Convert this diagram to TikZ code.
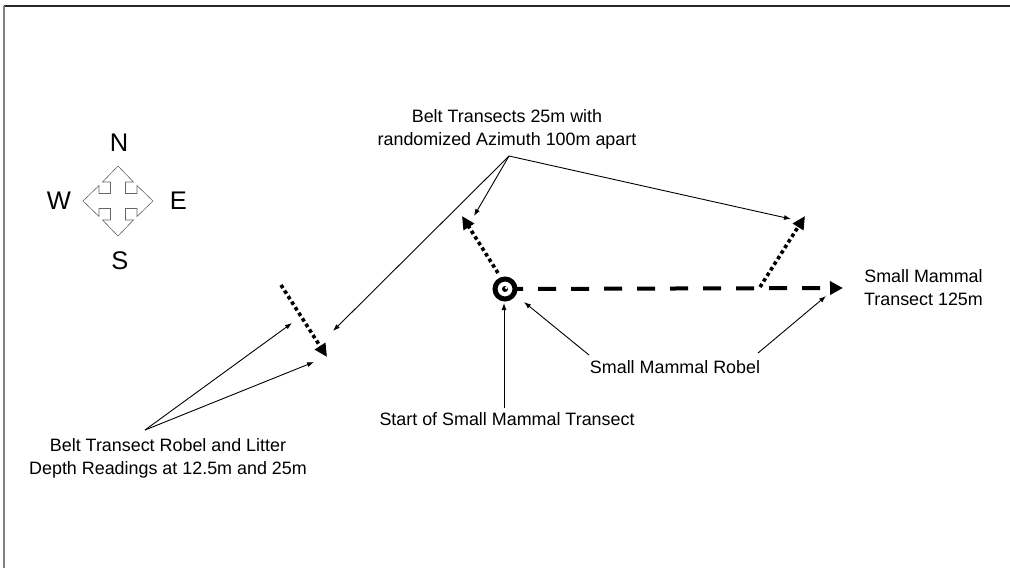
\documentclass[tikz,border=0pt]{standalone}
\usepackage{fontspec}
\setmainfont{Liberation Sans}
\usetikzlibrary{arrows.meta,calc}
\def\lblfont{\fontsize{17.9}{23.5}\selectfont}
\def\dirfont{\fontsize{25.5}{25.5}\selectfont}

\begin{document}
\begin{tikzpicture}[x=1pt, y=-1pt,
		lbl/.style={align=center, inner sep=0pt, font=\lblfont},
		dir/.style={inner sep=0pt, font=\dirfont},
		thin arrow/.style={line width=0.9pt, -{Latex[length=7pt,width=5pt]}},
		dash line/.style={line width=4pt, dash pattern=on 18pt off 15pt, -{Triangle[length=13pt,width=13pt]}},
		dot line/.style={line width=3.6pt, dash pattern=on 3.6pt off 3pt, -{Triangle[length=13pt,width=12pt]}}]
		%%%%% START %%%%%
		
		\useasboundingbox (0, 0) rectangle (1010, 568);
		\draw[line width=1.5pt, color=black!85] (4, 6) -- (1010, 6);
		\draw[line width=1.5pt, color=black!50] (4, 6) -- (4, 568);
		
		% compass
		\coordinate (compass) at (118, 201);
		\draw[line width=0.6pt, color=black!60, shift={(compass)}] (0, -35) -- (15.5, -19) -- (7.5, -19) -- (7.5, -7.5) -- (19, -7.5) -- (19, -15.5) -- (35, 0) -- (19, 15.5) -- (19, 7.5) -- (7.5, 7.5) -- (7.5, 19) -- (15.5, 19) -- (0, 35) -- (-15.5, 19) -- (-7.5, 19) -- (-7.5, 7.5) -- (-19, 7.5) -- (-19, 15.5) -- (-35, 0) -- (-19, -15.5) -- (-19, -7.5) -- (-7.5, -7.5) -- (-7.5, -19) -- (-15.5, -19) -- cycle;
		\node[dir] (north) at (119, 143) {N};
		\node[dir] (south) at (120, 260.5) {S};
		\node[dir] (west) at (59, 201) {W};
		\node[dir] (east) at (178.5, 201) {E};
		
		% transects
		\coordinate (mammalend) at (843, 288);
		\coordinate (beltastart) at (498, 273);
		\coordinate (beltaend) at (462, 216);
		\coordinate (beltbstart) at (760, 287);
		\coordinate (beltbend) at (805, 216);
		\coordinate (beltcstart) at (281, 285);
		\coordinate (beltcend) at (327, 357);
		
		\draw[dash line] (505, 289) -- (mammalend);
		\draw[dot line] (beltastart) -- (beltaend);
		\draw[dot line] (beltbstart) -- (beltbend);
		\draw[dot line] (beltcstart) -- (beltcend);
		
		\node[circle, draw, line width=5pt, fill=white, minimum size=20pt, inner sep=0pt] (ring) at (505, 289) {};
		\fill (ring.center) circle (3pt);
		\fill[white] ($(ring.center)+(1.2, -1.2)$) circle (1.5pt);
		
		% labels
		\node[lbl] (beltlabel) at (507, 129.5) {Belt Transects 25m with\\randomized Azimuth 100m apart};
		\node[lbl] (robellabel) at (168, 458.5) {Belt Transect Robel and Litter\\Depth Readings at 12.5m and 25m};
		\node[lbl] (startlabel) at (507, 419) {Start of Small Mammal Transect};
		\node[lbl] (mammalrobel) at (675, 367) {Small Mammal Robel};
		\node[lbl] (mammallabel) at (923.5, 287.5) {Small Mammal\\Transect 125m};
		
		% pointers
		\coordinate (hub) at (509, 156);
		\coordinate (robelhub) at (145, 430);
		\coordinate (starttip) at (504, 303);
		\coordinate (mrobela) at (589, 355);
		\coordinate (mrobelb) at (758, 353);
		
		\draw[thin arrow] (hub) -- (333, 331);
		\draw[thin arrow] (hub) -- (474, 216);
		\draw[thin arrow] (hub) -- (791, 219);
		\draw[thin arrow] (robelhub) -- (292, 323);
		\draw[thin arrow] (robelhub) -- (314, 362);
		\draw[thin arrow] (startlabel.north -| starttip) ++(0, -4) -- (starttip);
		\draw[thin arrow] (mrobela) -- (524, 302);
		\draw[thin arrow] (mrobelb) -- (826, 296);
		
		%%%%% END %%%%%
\end{tikzpicture}
\end{document}
